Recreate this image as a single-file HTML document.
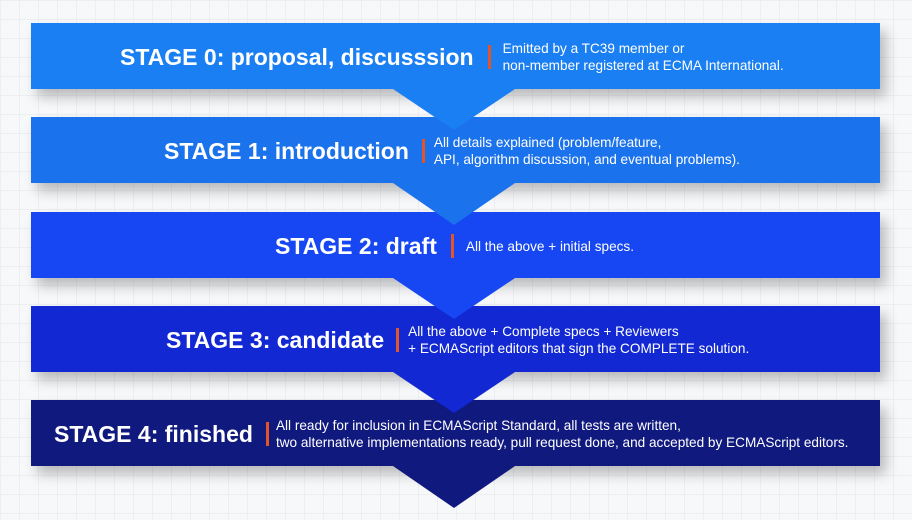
<!DOCTYPE html>
<html><head><meta charset="utf-8"><style>
body{margin:0;width:912px;height:520px;overflow:hidden;background:#f7f8fa;font-family:"Liberation Sans",sans-serif;position:relative;
background-image:linear-gradient(#eceef2 1px,transparent 1px),linear-gradient(90deg,#eceef2 1px,transparent 1px);background-size:19px 19px;}
.bar{position:absolute;left:31px;width:849px;height:66px;box-shadow:6px 8px 12px rgba(0,0,0,.25);}
.t{position:absolute;top:1px;height:66px;display:flex;align-items:center;color:#fff;white-space:nowrap}
.h{font-weight:bold;font-size:23px}
.s{width:3px;height:24px;background:#e2552a;margin:0 12px 0 14px}
.d{font-size:13.6px;line-height:17px}
svg{position:absolute;left:0;top:0}
</style></head><body>
<div class="bar" style="top:23px;background:#1a7ff2"><div class="t" style="left:89px"><span class="h">STAGE 0: proposal, discusssion</span><span class="s"></span><span class="d">Emitted by a TC39 member or<br>non-member registered at ECMA International.</span></div></div>
<div class="bar" style="top:117px;background:#1a72ec"><div class="t" style="left:133px"><span class="h">STAGE 1: introduction</span><span class="s" style="margin:0 9px 0 13px"></span><span class="d">All details explained (problem/feature,<br>API, algorithm discussion, and eventual problems).</span></div></div>
<div class="bar" style="top:212px;background:#1647f2"><div class="t" style="left:244px"><span class="h">STAGE 2: draft</span><span class="s"></span><span class="d">All the above + initial specs.</span></div></div>
<div class="bar" style="top:306px;background:#1128d2"><div class="t" style="left:135px"><span class="h">STAGE 3: candidate</span><span class="s" style="margin:0 9px 0 12px"></span><span class="d">All the above + Complete specs + Reviewers<br>+ ECMAScript editors that sign the COMPLETE solution.</span></div></div>
<div class="bar" style="top:400px;background:#10197e"><div class="t" style="left:23px"><span class="h">STAGE 4: finished</span><span class="s" style="margin:0 7px 0 13px"></span><span class="d">All ready for inclusion in ECMAScript Standard, all tests are written,<br>two alternative implementations ready, pull request done, and accepted by ECMAScript editors.</span></div></div>
<svg width="912" height="520">
<polygon points="393,89 515,89 454,130" fill="#1a7ff2"/>
<polygon points="393,183 515,183 454,225" fill="#1a72ec"/>
<polygon points="393,278 515,278 454,319" fill="#1647f2"/>
<polygon points="393,372 515,372 454,413" fill="#1128d2"/>
<polygon points="393,466 515,466 454,508" fill="#10197e"/>
</svg>
</body></html>
